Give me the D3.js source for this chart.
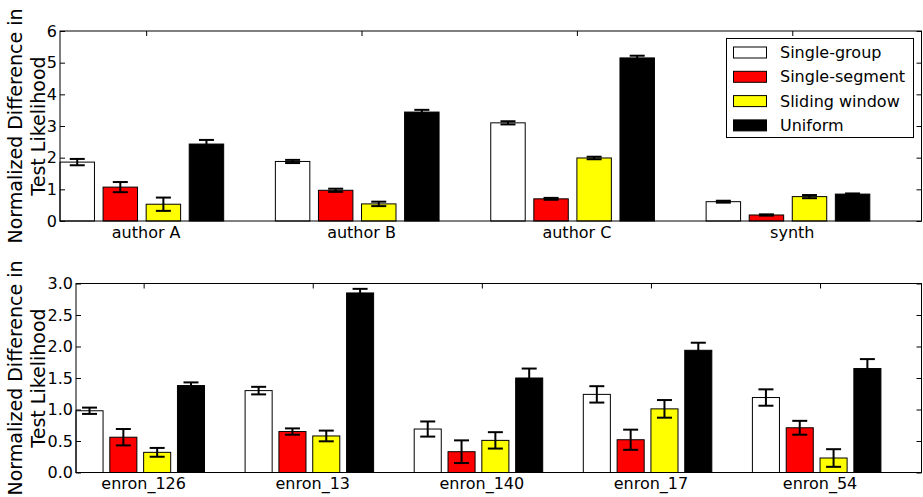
<!DOCTYPE html>
<html>
<head>
<meta charset="utf-8">
<script src="https://cdn.jsdelivr.net/npm/d3@7"></script>
<style>
  body { margin: 0; background: #fff; }
  text { font-family: 'DejaVu Sans', sans-serif; }
</style>
</head>
<body>
<div id="chart"></div>
<script>
// series shared by both panels
const seriesNames = ['Single-group', 'Single-segment', 'Sliding window', 'Uniform'];
const seriesColors = ['#ffffff', '#ff0000', '#ffff00', '#000000'];

// top panel
const authorCats = ['author A', 'author B', 'author C', 'synth'];
const authorTicks = [0, 1, 2, 3, 4, 5, 6];
const authorSingleGroup = [1.86, 1.88, 3.10, 0.61];
const authorSingleSegment = [1.07, 0.97, 0.70, 0.19];
const authorSliding = [0.53, 0.54, 1.99, 0.77];
const authorUniform = [2.43, 3.44, 5.15, 0.85];
const authorSingleGroupErr = [0.10, 0.05, 0.05, 0.03];
const authorSingleSegmentErr = [0.16, 0.05, 0.03, 0.02];
const authorSlidingErr = [0.21, 0.07, 0.04, 0.05];
const authorUniformErr = [0.13, 0.07, 0.07, 0.02];

// bottom panel
const enronCats = ['enron_126', 'enron_13', 'enron_140', 'enron_17', 'enron_54'];
const enronTicks = [0, 0.5, 1, 1.5, 2, 2.5, 3];
const enronSingleGroup = [0.98, 1.30, 0.69, 1.24, 1.19];
const enronSingleSegment = [0.56, 0.65, 0.33, 0.52, 0.71];
const enronSliding = [0.32, 0.58, 0.51, 1.01, 0.23];
const enronUniform = [1.38, 2.85, 1.50, 1.94, 1.65];
const enronSingleGroupErr = [0.05, 0.06, 0.12, 0.13, 0.13];
const enronSingleSegmentErr = [0.13, 0.05, 0.18, 0.16, 0.11];
const enronSlidingErr = [0.07, 0.085, 0.13, 0.14, 0.14];
const enronUniformErr = [0.05, 0.065, 0.15, 0.12, 0.15];

const width = 923;
const height = 497;

const svg = d3.select('#chart')
  .append('svg')
  .attr('width', width)
  .attr('height', height);

function drawPanel(opts) {
  const { left, right, top, bottom, cats, values, errors, yMax, ticks, tickFormat } = opts;

  const x = d3.scaleLinear().domain([0, cats.length]).range([left, right]);
  const y = d3.scaleLinear().domain([0, yMax]).range([bottom, top]);

  const g = svg.append('g');

  // bars
  values.forEach((vals, s) => {
    g.selectAll('.bar-' + s)
      .data(vals)
      .enter()
      .append('rect')
      .attr('x', (d, i) => x(i + s * 0.2))
      .attr('y', d => y(d))
      .attr('width', x(0.16) - x(0))
      .attr('height', d => y(0) - y(d))
      .attr('fill', seriesColors[s])
      .attr('stroke', '#000')
      .attr('stroke-width', 1);
  });

  // error bars
  values.forEach((vals, s) => {
    vals.forEach((v, i) => {
      const cx = x(i + s * 0.2 + 0.08);
      const e = errors[s][i];
      const eg = g.append('g')
        .attr('stroke', '#000')
        .attr('stroke-width', 2);
      eg.append('line')
        .attr('x1', cx).attr('x2', cx)
        .attr('y1', y(v - e)).attr('y2', y(v + e));
      [v - e, v + e].forEach(ev => {
        eg.append('line')
          .attr('x1', cx - 7.5).attr('x2', cx + 7.5)
          .attr('y1', y(ev)).attr('y2', y(ev));
      });
    });
  });

  // y axis left with inward ticks
  const yAxis = g.append('g')
    .attr('transform', `translate(${left},0)`)
    .call(d3.axisLeft(y).tickValues(ticks).tickFormat(tickFormat).tickSize(-5).tickPadding(3));
  yAxis.select('.domain').remove();
  yAxis.selectAll('text').attr('font-size', '16px').attr('fill', '#000')
    .style('font-family', "'DejaVu Sans', sans-serif");

  // right side ticks
  g.append('g')
    .attr('transform', `translate(${right},0)`)
    .call(d3.axisRight(y).tickValues(ticks).tickFormat('').tickSize(-5))
    .select('.domain').remove();

  // top ticks at category centres
  const catTicks = cats.map((c, i) => i + 0.4);
  g.append('g')
    .attr('transform', `translate(0,${top})`)
    .call(d3.axisTop(x).tickValues(catTicks).tickFormat('').tickSize(-5))
    .select('.domain').remove();

  // category labels
  g.selectAll('.cat')
    .data(cats)
    .enter()
    .append('text')
    .attr('x', (d, i) => x(i + 0.4))
    .attr('y', bottom + 16.5)
    .attr('text-anchor', 'middle')
    .attr('font-size', '16px')
    .attr('fill', '#000')
    .text(d => d);

  // frame
  g.append('rect')
    .attr('x', left)
    .attr('y', top)
    .attr('width', right - left)
    .attr('height', bottom - top)
    .attr('fill', 'none')
    .attr('stroke', '#000')
    .attr('stroke-width', 1);

  // y label, two lines
  const cy = (top + bottom) / 2;
  const label = g.append('text')
    .attr('transform', `translate(15,${cy}) rotate(-90)`)
    .attr('text-anchor', 'middle')
    .attr('font-size', '19px')
    .attr('fill', '#000');
  label.append('tspan').attr('x', 0).attr('dy', '0.35em').text('Normalized Difference in');
  label.append('tspan').attr('x', 0).attr('dy', 23).text('Test Likelihood');

  return { x, y, g };
}

drawPanel({
  left: 60, right: 921.5, top: 31, bottom: 221,
  cats: authorCats,
  values: [authorSingleGroup, authorSingleSegment, authorSliding, authorUniform],
  errors: [authorSingleGroupErr, authorSingleSegmentErr, authorSlidingErr, authorUniformErr],
  yMax: 6, ticks: authorTicks, tickFormat: d3.format('d')
});

drawPanel({
  left: 76, right: 921.5, top: 283.5, bottom: 472.5,
  cats: enronCats,
  values: [enronSingleGroup, enronSingleSegment, enronSliding, enronUniform],
  errors: [enronSingleGroupErr, enronSingleSegmentErr, enronSlidingErr, enronUniformErr],
  yMax: 3, ticks: enronTicks, tickFormat: d3.format('.1f')
});

// legend in top panel
const legend = svg.append('g').attr('transform', 'translate(726.5,38.5)');
legend.append('rect')
  .attr('width', 187)
  .attr('height', 99)
  .attr('fill', '#fff')
  .attr('stroke', '#000')
  .attr('stroke-width', 1);

seriesNames.forEach((name, i) => {
  const row = legend.append('g').attr('transform', `translate(0,${14 + i * 24.3})`);
  row.append('rect')
    .attr('x', 7)
    .attr('y', -5.5)
    .attr('width', 33)
    .attr('height', 11)
    .attr('fill', seriesColors[i])
    .attr('stroke', '#000')
    .attr('stroke-width', 1);
  row.append('text')
    .attr('x', 53.5)
    .attr('y', 0)
    .attr('dy', '0.35em')
    .attr('font-size', '16px')
    .attr('fill', '#000')
    .text(name);
});
</script>
</body>
</html>
